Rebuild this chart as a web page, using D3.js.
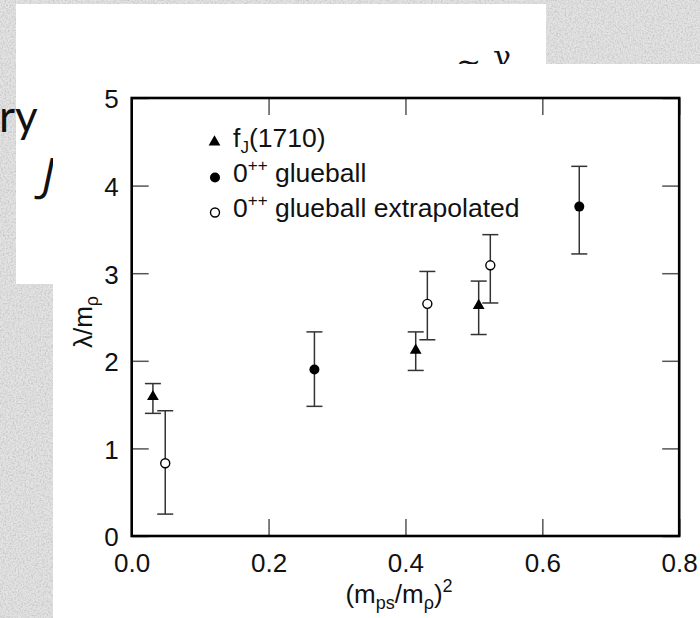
<!DOCTYPE html>
<html><head><meta charset="utf-8">
<script src="https://cdn.jsdelivr.net/npm/d3@7"></script>
<style>html,body{margin:0;padding:0;background:#e0e0e0;}svg{display:block;}</style>
</head><body>
<script>
// ---- data ----
const seriesNames = ["fJ(1710)", "0++ glueball", "0++ glueball extrapolated"];
const triX   = [0.031, 0.415, 0.507];
const triY   = [1.59, 2.12, 2.63];
const triLo  = [1.40, 1.89, 2.30];
const triHi  = [1.74, 2.33, 2.91];
const fullX  = [0.267, 0.654];
const fullY  = [1.90, 3.76];
const fullLo = [1.48, 3.22];
const fullHi = [2.33, 4.22];
const openX  = [0.049, 0.432, 0.524];
const openY  = [0.83, 2.65, 3.09];
const openLo = [0.25, 2.24, 2.66];
const openHi = [1.43, 3.02, 3.44];
const xTicks = [0.0, 0.2, 0.4, 0.6, 0.8];
const yTicks = [0, 1, 2, 3, 4, 5];

const W = 700, H = 618;
const svg = d3.select("body").append("svg").attr("width", W).attr("height", H);
const defs = svg.append("defs");
const f = defs.append("filter").attr("id","noise").attr("x",0).attr("y",0).attr("width","100%").attr("height","100%");
f.append("feTurbulence").attr("type","fractalNoise").attr("baseFrequency",0.6).attr("numOctaves",3).attr("seed",4).attr("result","t");
f.append("feColorMatrix").attr("in","t").attr("type","matrix")
 .attr("values","0 0 0 0 0.5  0 0 0 0 0.5  0 0 0 0 0.5  1.6 0 0 0 -0.62");

// slide background
svg.append("rect").attr("width",W).attr("height",H).attr("fill","#e3e3e3");
svg.append("rect").attr("width",W).attr("height",H).attr("filter","url(#noise)");
// slide white text box
svg.append("rect").attr("x",16).attr("y",4).attr("width",530).attr("height",280).attr("fill","#fff");
svg.append("text").attr("x",-1).attr("y",132)
  .style("font-family","Lato, 'Open Sans', sans-serif").style("font-size","44px").attr("fill","#111").text("ry");
svg.append("text").attr("x",54).attr("y",191).attr("text-anchor","end")
  .style("font-family","'Open Sans', sans-serif").style("font-style","italic").style("font-size","46px").attr("fill","#111").text("J");
svg.append("text").attr("x",437).attr("y",76)
  .style("font-family","'DejaVu Serif', serif").style("font-size","30px").attr("fill","#111").text("-");
svg.append("text").attr("x",456).attr("y",72)
  .style("font-family","'DejaVu Serif', serif").style("font-size","30px").attr("fill","#111").text("~");
svg.append("text").attr("x",493).attr("y",67)
  .style("font-family","'DejaVu Serif', serif").style("font-size","30px").attr("fill","#111").text("γ");

// chart image white area
svg.append("rect").attr("x",53).attr("y",64).attr("width",W-53).attr("height",H-64).attr("fill","#fff");

// ---- chart ----
const L = 131.7, R = 679.2, T = 98, B = 536;
const x = d3.scaleLinear().domain([0, 0.8]).range([L, R]);
const y = d3.scaleLinear().domain([0, 5]).range([B, T]);
const font = "'Liberation Sans', Arial, sans-serif";
const tickCol = "#555";

const g = svg.append("g");
function styleAxis(sel){
  sel.select(".domain").remove();
  sel.selectAll(".tick line").attr("stroke",tickCol).attr("stroke-width",1.5);
  sel.selectAll(".tick text").style("font-family",font).style("font-size","26px").attr("fill","#111");
}
g.append("g").attr("transform",`translate(0,${B})`)
  .call(d3.axisBottom(x).tickValues(xTicks).tickFormat(d3.format(".1f")).tickSizeInner(-17).tickSizeOuter(0).tickPadding(18))
  .call(styleAxis);
g.append("g").attr("transform",`translate(0,${T})`)
  .call(d3.axisTop(x).tickValues(xTicks).tickFormat("").tickSizeInner(-17).tickSizeOuter(0))
  .call(styleAxis);
const ya = g.append("g").attr("transform",`translate(${L},0)`)
  .call(d3.axisLeft(y).tickValues(yTicks).tickFormat(d3.format("d")).tickSizeInner(-17).tickSizeOuter(0).tickPadding(13))
  .call(styleAxis);
ya.selectAll(".tick text").attr("dy","0.38em");
g.append("g").attr("transform",`translate(${R},0)`)
  .call(d3.axisRight(y).tickValues(yTicks).tickFormat("").tickSizeInner(-17).tickSizeOuter(0))
  .call(styleAxis);

// frame
g.append("rect").attr("x",L).attr("y",T).attr("width",R-L).attr("height",B-T)
  .attr("fill","none").attr("stroke","#000").attr("stroke-width",2.6);

// error bars
const ebCol = "#333";
function errorBars(xs, lo, hi){
  const eg = g.append("g").attr("stroke",ebCol).attr("stroke-width",1.5);
  xs.forEach((xv,i)=>{
    eg.append("line").attr("x1",x(xv)).attr("x2",x(xv)).attr("y1",y(lo[i])).attr("y2",y(hi[i]));
    eg.append("line").attr("x1",x(xv)-8).attr("x2",x(xv)+8).attr("y1",y(lo[i])).attr("y2",y(lo[i]));
    eg.append("line").attr("x1",x(xv)-8).attr("x2",x(xv)+8).attr("y1",y(hi[i])).attr("y2",y(hi[i]));
  });
}
errorBars(triX, triLo, triHi);
errorBars(fullX, fullLo, fullHi);
errorBars(openX, openLo, openHi);

const triPath = d3.symbol().type(d3.symbolTriangle).size(60)();
function tri(sel, cx, cy){ sel.append("path").attr("d",triPath).attr("transform",`translate(${cx},${cy})`).attr("fill","#000"); }
function full(sel, cx, cy){ sel.append("circle").attr("cx",cx).attr("cy",cy).attr("r",5).attr("fill","#000"); }
function open(sel, cx, cy){ sel.append("circle").attr("cx",cx).attr("cy",cy).attr("r",4.5).attr("fill","#fff").attr("stroke","#000").attr("stroke-width",1.4); }

triX.forEach((v,i)=>tri(g, x(v), y(triY[i])));
fullX.forEach((v,i)=>full(g, x(v), y(fullY[i])));
openX.forEach((v,i)=>open(g, x(v), y(openY[i])));

// legend
const lg = g.append("g").style("font-family",font).style("font-size","26.5px").attr("fill","#111");
const rows = [147, 182, 217];
tri(lg, 214.5, rows[0]-5);
full(lg, 215, rows[1]-4.5);
open(lg, 215, rows[2]-4.5);
let t1 = lg.append("text").attr("x",233).attr("y",rows[0]);
t1.append("tspan").text("f");
t1.append("tspan").attr("dy",6).style("font-size","17px").text("J");
t1.append("tspan").attr("dy",-6).text("(1710)");
[1,2].forEach(k=>{
  let t = lg.append("text").attr("x",233).attr("y",rows[k]);
  t.append("tspan").text("0");
  t.append("tspan").attr("dy",-11).style("font-size","17px").text("++");
  t.append("tspan").attr("dy",11).text(k===1 ? " glueball" : " glueball extrapolated");
});

// axis titles
const xt = g.append("text").attr("x",399).attr("y",603).attr("text-anchor","middle")
  .style("font-family",font).style("font-size","26px").attr("fill","#111");
xt.append("tspan").text("(m");
xt.append("tspan").attr("dy",6).style("font-size","18px").text("ps");
xt.append("tspan").attr("dy",-6).text("/m");
xt.append("tspan").attr("dy",6).style("font-size","18px").text("ρ");
xt.append("tspan").attr("dy",-6).text(")");
xt.append("tspan").attr("dy",-11).style("font-size","18px").text("2");

const yt = g.append("text").attr("transform","translate(92,322) rotate(-90)").attr("text-anchor","middle")
  .style("font-family",font).style("font-size","26px").attr("fill","#111");
yt.append("tspan").text("λ/m");
yt.append("tspan").attr("dy",6).style("font-size","18px").text("ρ");
</script>
</body></html>
